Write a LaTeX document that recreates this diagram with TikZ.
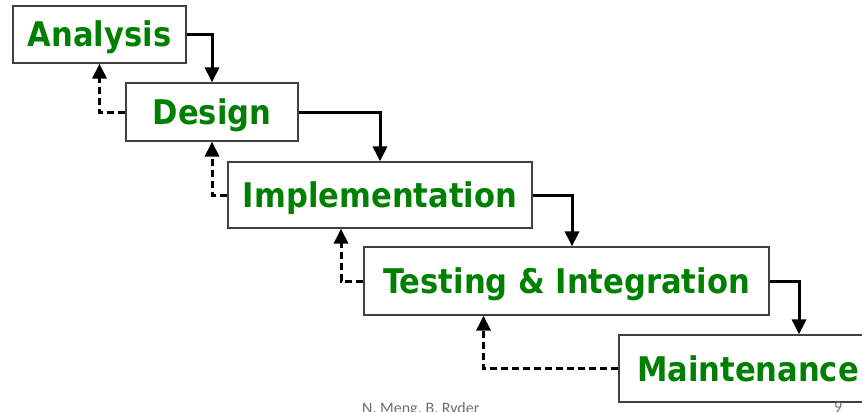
\documentclass[tikz,border=0pt]{standalone}
\usepackage{fontspec}
\setmainfont[FakeStretch=0.9]{DejaVu Sans}
\newfontfamily\footfont{Carlito}
\usetikzlibrary{arrows.meta}
\definecolor{pgreen}{RGB}{0,128,0}
\definecolor{pgray}{RGB}{110,110,110}

\begin{document}
\begin{tikzpicture}[x=1pt, y=-1pt,
    phase/.style={draw=black!75, line width=1.2pt, fill=white, inner sep=0pt,
        text height=25pt, text depth=0pt,
        font=\fontsize{34}{40}\selectfont\bfseries, text=pgreen},
    arrow/.style={-{Triangle[length=15pt,width=14pt]}, line width=3pt},
    back/.style={arrow, dash pattern=on 7pt off 4pt},
    foot/.style={anchor=north west, inner sep=0pt, text=pgray, font=\footfont\fontsize{16}{18}\selectfont},
]
\path[use as bounding box, clip] (0,0) rectangle (862,412);

\node[phase, minimum width=173pt, minimum height=57pt] (ana) at (99.5,34.5) {Analysis};
\node[phase, minimum width=172pt, minimum height=58pt] (des) at (212,112) {Design};
\node[phase, minimum width=304pt, minimum height=66pt] (imp) at (380,195) {Implementation};
\node[phase, minimum width=405pt, minimum height=68pt] (tst) at (566.5,281) {Testing \& Integration};
\node[phase, minimum width=261pt, minimum height=67pt, text width=225pt, align=left] (mnt) at (749.5,368.5) {Maintenance};

% forward flow
\draw[arrow] (ana.east) -| (des.north);
\draw[arrow] (des.east) -| (imp.north);
\draw[arrow] (imp.east) -| ([xshift=5.5pt]tst.north);
\draw[arrow] (tst.east) -| ([xshift=49.5pt]mnt.north);

% feedback
\draw[back] (des.west) -| (ana.south);
\draw[back] (imp.west) -| (des.south);
\draw[back] (tst.west) -| ([xshift=-39pt]imp.south);
\draw[back] (mnt.west) -| ([xshift=-83pt]tst.south);

\node[foot] (auth) at (362,402) {N. Meng, B. Ryder};
\node[foot] (page) at (834,402) {9};

\end{tikzpicture}
\end{document}
